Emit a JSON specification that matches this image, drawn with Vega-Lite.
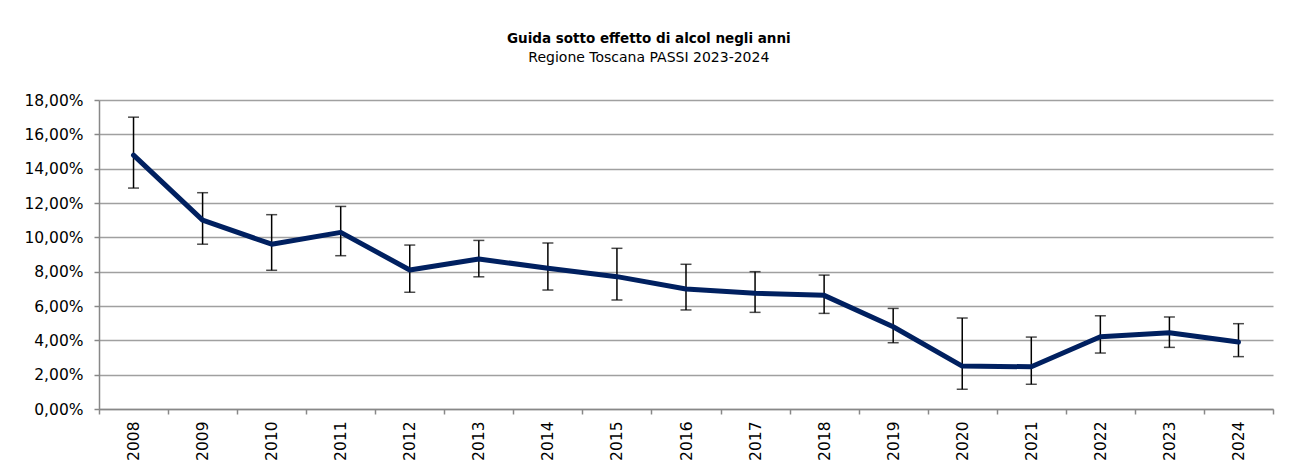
{
  "$schema": "https://vega.github.io/schema/vega-lite/v6.json",
  "width": 1174,
  "height": 309,
  "autosize": {"type": "none"},
  "padding": {"left": 99, "top": 100, "right": 30, "bottom": 66},
  "background": "white",
  "title": {
    "text": "Guida sotto effetto di alcol negli anni",
    "subtitle": "Regione Toscana PASSI 2023-2024",
    "anchor": "middle",
    "frame": "bounds",
    "font": "DejaVu Sans",
    "fontSize": 13.5,
    "fontWeight": "bold",
    "color": "#000000",
    "subtitleFont": "DejaVu Sans",
    "subtitleFontSize": 14,
    "subtitleColor": "#000000",
    "subtitlePadding": 6,
    "offset": 28
  },
  "data": {
    "values": [
      {"anno": "2008", "valore": 14.79, "inf": 12.87, "sup": 17.0},
      {"anno": "2009", "valore": 11.0, "inf": 9.6, "sup": 12.6},
      {"anno": "2010", "valore": 9.6, "inf": 8.08, "sup": 11.32},
      {"anno": "2011", "valore": 10.29, "inf": 8.93, "sup": 11.8},
      {"anno": "2012", "valore": 8.1, "inf": 6.8, "sup": 9.55},
      {"anno": "2013", "valore": 8.74, "inf": 7.7, "sup": 9.82},
      {"anno": "2014", "valore": 8.2, "inf": 6.93, "sup": 9.67},
      {"anno": "2015", "valore": 7.71, "inf": 6.35, "sup": 9.36},
      {"anno": "2016", "valore": 6.99, "inf": 5.77, "sup": 8.43},
      {"anno": "2017", "valore": 6.74, "inf": 5.63, "sup": 8.0},
      {"anno": "2018", "valore": 6.62, "inf": 5.57, "sup": 7.8},
      {"anno": "2019", "valore": 4.79, "inf": 3.86, "sup": 5.86},
      {"anno": "2020", "valore": 2.5, "inf": 1.15, "sup": 5.3},
      {"anno": "2021", "valore": 2.46, "inf": 1.44, "sup": 4.19},
      {"anno": "2022", "valore": 4.21, "inf": 3.26, "sup": 5.43},
      {"anno": "2023", "valore": 4.44, "inf": 3.59, "sup": 5.36},
      {"anno": "2024", "valore": 3.9, "inf": 3.05, "sup": 4.97}
    ]
  },
  "encoding": {
    "x": {
      "field": "anno",
      "type": "ordinal",
      "scale": {"type": "band", "paddingInner": 0, "paddingOuter": 0},
      "axis": {
        "title": null,
        "labelAngle": -90,
        "tickBand": "extent",
        "tickSize": 5,
        "tickColor": "#888888",
        "tickWidth": 1.5,
        "domainColor": "#888888",
        "domainWidth": 1.5,
        "labelPadding": 7,
        "labelFont": "DejaVu Sans",
        "labelFontSize": 15.5,
        "labelColor": "#000000",
        "labelOverlap": false,
        "grid": false
      }
    }
  },
  "layer": [
    {
      "mark": {"type": "rule", "color": "#000000", "strokeWidth": 1.5},
      "encoding": {
        "y": {
          "field": "inf",
          "type": "quantitative",
          "scale": {"domain": [0, 18], "nice": false},
          "axis": {
            "title": null,
            "values": [0, 2, 4, 6, 8, 10, 12, 14, 16, 18],
            "labelExpr": "replace(format(datum.value, '.2f'), '.', ',') + '%'",
            "labelOverlap": false,
            "tickSize": 5,
            "tickColor": "#888888",
            "tickWidth": 1.5,
            "domainColor": "#888888",
            "domainWidth": 1.5,
            "gridColor": "#a0a0a0",
            "gridWidth": 1.5,
            "labelPadding": 11,
            "labelFont": "DejaVu Sans",
            "labelFontSize": 15.5,
            "labelColor": "#000000"
          }
        },
        "y2": {"field": "sup"}
      }
    },
    {
      "mark": {"type": "tick", "color": "#000000", "thickness": 1.5, "size": 11, "orient": "horizontal"},
      "encoding": {"y": {"field": "inf", "type": "quantitative", "scale": {"domain": [0, 18], "nice": false},
          "axis": {
            "title": null,
            "values": [0, 2, 4, 6, 8, 10, 12, 14, 16, 18],
            "labelExpr": "replace(format(datum.value, '.2f'), '.', ',') + '%'",
            "labelOverlap": false,
            "tickSize": 5,
            "tickColor": "#888888",
            "tickWidth": 1.5,
            "domainColor": "#888888",
            "domainWidth": 1.5,
            "gridColor": "#a0a0a0",
            "gridWidth": 1.5,
            "labelPadding": 11,
            "labelFont": "DejaVu Sans",
            "labelFontSize": 15.5,
            "labelColor": "#000000"
          }}}
    },
    {
      "mark": {"type": "tick", "color": "#000000", "thickness": 1.5, "size": 11, "orient": "horizontal"},
      "encoding": {"y": {"field": "sup", "type": "quantitative", "scale": {"domain": [0, 18], "nice": false},
          "axis": {
            "title": null,
            "values": [0, 2, 4, 6, 8, 10, 12, 14, 16, 18],
            "labelExpr": "replace(format(datum.value, '.2f'), '.', ',') + '%'",
            "labelOverlap": false,
            "tickSize": 5,
            "tickColor": "#888888",
            "tickWidth": 1.5,
            "domainColor": "#888888",
            "domainWidth": 1.5,
            "gridColor": "#a0a0a0",
            "gridWidth": 1.5,
            "labelPadding": 11,
            "labelFont": "DejaVu Sans",
            "labelFontSize": 15.5,
            "labelColor": "#000000"
          }}}
    },
    {
      "mark": {"type": "line", "color": "#002060", "strokeWidth": 5, "strokeCap": "round", "strokeJoin": "round"},
      "encoding": {"y": {"field": "valore", "type": "quantitative", "scale": {"domain": [0, 18], "nice": false},
          "axis": {
            "title": null,
            "values": [0, 2, 4, 6, 8, 10, 12, 14, 16, 18],
            "labelExpr": "replace(format(datum.value, '.2f'), '.', ',') + '%'",
            "labelOverlap": false,
            "tickSize": 5,
            "tickColor": "#888888",
            "tickWidth": 1.5,
            "domainColor": "#888888",
            "domainWidth": 1.5,
            "gridColor": "#a0a0a0",
            "gridWidth": 1.5,
            "labelPadding": 11,
            "labelFont": "DejaVu Sans",
            "labelFontSize": 15.5,
            "labelColor": "#000000"
          }}}
    }
  ],
  "config": {
    "view": {"stroke": null}
  }
}
